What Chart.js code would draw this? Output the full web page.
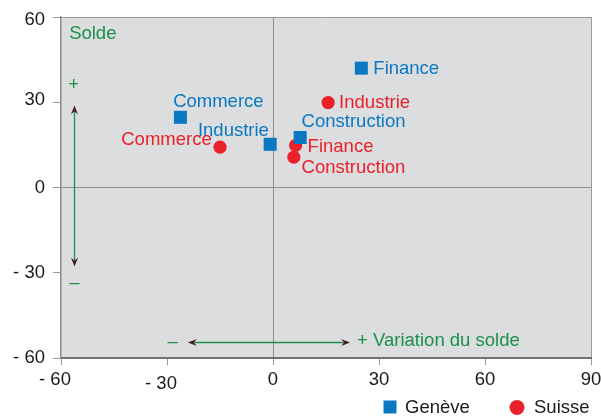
<!DOCTYPE html>
<html><head><meta charset="utf-8">
<script src="https://cdn.jsdelivr.net/npm/chart.js@4/dist/chart.umd.min.js"></script>
<style>html,body{margin:0;padding:0;background:#fff}canvas{display:block}</style>
</head><body>
<canvas id="c" width="601" height="416"></canvas>
<script>
// ---- data ----
const categories = ['Finance', 'Commerce', 'Industrie', 'Construction'];
const seriesNames = ['Genève', 'Suisse'];
const genevaX = [25.0, -26.2, -0.8, 7.7];
const genevaY = [42.0, 24.7, 15.2, 17.6];
const suisseX = [6.4, -15.0, 15.6, 5.9];
const suisseY = [14.8, 14.2, 29.9, 10.7];
const xTicks = [-60, -30, 0, 30, 60, 90];
const yTicks = [-60, -30, 0, 30, 60];

// ---- styles ----
const BLUE = '#0A78C2';
const RED = '#E9212B';
const GREEN = '#1B8F4B';
const HEAD = '#4a1c1f';
const FONT = '"Liberation Sans", Arial, sans-serif';
const FS = 18.5;
// label placement (pixel offsets from point, alignment)
const labelPlace = [
  [{dx: 12, dy: 5.7, a: 'left'}, {dx: -7.3, dy: -10, a: 'left'}, {dx: -1.3, dy: -8.3, a: 'right'}, {dx: 1.4, dy: -10.4, a: 'left'}],
  [{dx: 12, dy: 7, a: 'left'}, {dx: -8.3, dy: -2.3, a: 'right'}, {dx: 11, dy: 5.6, a: 'left'}, {dx: 7.7, dy: 16, a: 'left'}]
];
// small tick-label nudges seen in the reference (pixels)
const xLabelNudge = {'-60': [-6, 0], '-30': [-6, 4]};
const yLabelNudge = {'60': [0, 2.5], '30': [0, -2]};

const fmt = v => v < 0 ? '- ' + (-v) : String(v);

function nudge(scale, table) {
  if (!scale.getLabelItems) return;
  const items = scale.getLabelItems(scale.chart.chartArea);
  if (!items || items._adj) return;
  items.forEach((it, i) => {
    const t = scale.ticks[i];
    const n = t && table[String(t.value)];
    if (n && it.options && it.options.translation) {
      it.options.translation[0] += n[0];
      it.options.translation[1] += n[1];
    }
  });
  items._adj = true;
}

const bgPlugin = {
  id: 'bg',
  beforeDraw(chart) {
    const {ctx, chartArea: a} = chart;
    ctx.save();
    ctx.fillStyle = '#DCDDDF';
    ctx.fillRect(a.left, a.top, a.right - a.left, a.bottom - a.top);
    ctx.restore();
    nudge(chart.scales.x, xLabelNudge);
    nudge(chart.scales.y, yLabelNudge);
  }
};

const labelPlugin = {
  id: 'ptlabels',
  afterDatasetsDraw(chart) {
    const {ctx} = chart;
    ctx.save();
    ctx.font = FS + 'px ' + FONT;
    ctx.textBaseline = 'alphabetic';
    chart.data.datasets.forEach((ds, di) => {
      const meta = chart.getDatasetMeta(di);
      meta.data.forEach((pt, i) => {
        const p = labelPlace[di][i];
        ctx.fillStyle = di === 0 ? BLUE : RED;
        ctx.textAlign = p.a;
        ctx.fillText(categories[i], pt.x + p.dx, pt.y + p.dy);
      });
    });
    ctx.restore();
  }
};

function arrowHead(ctx, tx, ty, dx, dy) {
  const L = 9, W = 3.6, N = 3.2;
  const nx = -dy, ny = dx;
  ctx.beginPath();
  ctx.moveTo(tx, ty);
  ctx.lineTo(tx - L * dx + W * nx, ty - L * dy + W * ny);
  ctx.lineTo(tx - (L - N) * dx, ty - (L - N) * dy);
  ctx.lineTo(tx - L * dx - W * nx, ty - L * dy - W * ny);
  ctx.closePath();
  ctx.fill();
}

const annPlugin = {
  id: 'ann',
  afterDraw(chart) {
    const {ctx} = chart;
    const X = v => chart.scales.x.getPixelForValue(v);
    const Y = v => chart.scales.y.getPixelForValue(v);
    ctx.save();
    ctx.font = FS + 'px ' + FONT;
    ctx.fillStyle = GREEN;
    ctx.textBaseline = 'alphabetic';
    ctx.textAlign = 'left';
    ctx.fillText('Solde', X(-57.7), Y(52.2));
    ctx.fillText('+ Variation du solde', X(23.8), Y(-55.7));
    ctx.textAlign = 'center';
    ctx.textBaseline = 'middle';
    ctx.fillText('+', X(-56.4), Y(36.2));
    ctx.fillText('–', X(-56.2), Y(-33.6));
    ctx.fillText('–', X(-28.4), Y(-54.5));
    // vertical arrow
    const vx = Math.round(X(-56.3)) + 0.5;
    const vt = Y(28.85), vb = Y(-27.8);
    ctx.strokeStyle = GREEN;
    ctx.lineWidth = 1.3;
    ctx.beginPath();
    ctx.moveTo(vx, vt + 5); ctx.lineTo(vx, vb - 5);
    ctx.stroke();
    // horizontal arrow
    const hy = Math.round(Y(-54.4)) + 0.5;
    const hl = X(-24.1), hr = X(21.8);
    ctx.beginPath();
    ctx.moveTo(hl + 5, hy); ctx.lineTo(hr - 5, hy);
    ctx.stroke();
    ctx.fillStyle = HEAD;
    arrowHead(ctx, vx, vt, 0, -1);
    arrowHead(ctx, vx, vb, 0, 1);
    arrowHead(ctx, hl, hy, -1, 0);
    arrowHead(ctx, hr, hy, 1, 0);
    // legend
    ctx.textAlign = 'left';
    ctx.textBaseline = 'alphabetic';
    ctx.fillStyle = BLUE;
    ctx.fillRect(383.5, 400.5, 13, 13);
    ctx.fillStyle = RED;
    ctx.beginPath(); ctx.arc(517, 407.5, 7.5, 0, Math.PI * 2); ctx.fill();
    ctx.fillStyle = '#1a1a1a';
    ctx.fillText(seriesNames[0], 405, 413.3);
    ctx.fillText(seriesNames[1], 534, 413.3);
    ctx.restore();
  }
};

const tickFont = {family: FONT, size: FS};

new Chart(document.getElementById('c'), {
  type: 'scatter',
  data: {
    datasets: [
      {label: seriesNames[0], data: genevaX.map((x, i) => ({x, y: genevaY[i]})),
       pointStyle: 'rect', pointRadius: 9.2, backgroundColor: BLUE, borderWidth: 0},
      {label: seriesNames[1], data: suisseX.map((x, i) => ({x, y: suisseY[i]})),
       pointStyle: 'circle', pointRadius: 6.6, backgroundColor: RED, borderWidth: 0}
    ]
  },
  options: {
    responsive: false, animation: false, events: [],
    layout: {padding: {top: 17, right: 10, left: 0, bottom: 0}},
    plugins: {legend: {display: false}, tooltip: {enabled: false}},
    scales: {
      x: {
        type: 'linear', min: -60, max: 90,
        afterBuildTicks: s => { s.ticks = xTicks.map(v => ({value: v})); },
        ticks: {callback: fmt, font: tickFont, color: '#1a1a1a', padding: 4, maxRotation: 0, autoSkip: false},
        grid: {
          color: c => (c.tick && c.tick.value === 0) ? '#8c8c8c' : (c.tick && c.tick.value === 90 ? '#9a9a9a' : 'rgba(0,0,0,0)'),
          tickColor: '#9a9a9a', tickLength: 7, lineWidth: 1
        },
        border: {color: '#707070', width: 2},
        afterFit: s => { s.height = 58; s.paddingLeft = 0; s.paddingRight = 0; }
      },
      y: {
        type: 'linear', min: -60, max: 60,
        afterBuildTicks: s => { s.ticks = yTicks.map(v => ({value: v})); },
        ticks: {callback: fmt, font: tickFont, color: '#1a1a1a', padding: 8, autoSkip: false},
        grid: {
          color: c => (c.tick && c.tick.value === 0) ? '#8c8c8c' : (c.tick && c.tick.value === 60 ? '#9a9a9a' : 'rgba(0,0,0,0)'),
          tickColor: '#9a9a9a', tickLength: 8, lineWidth: 1
        },
        border: {color: '#8a8a8a', width: 1.5},
        afterFit: s => { s.width = 61; s.paddingTop = 0; s.paddingBottom = 0; }
      }
    }
  },
  plugins: [bgPlugin, labelPlugin, annPlugin]
});
</script>
</body></html>
